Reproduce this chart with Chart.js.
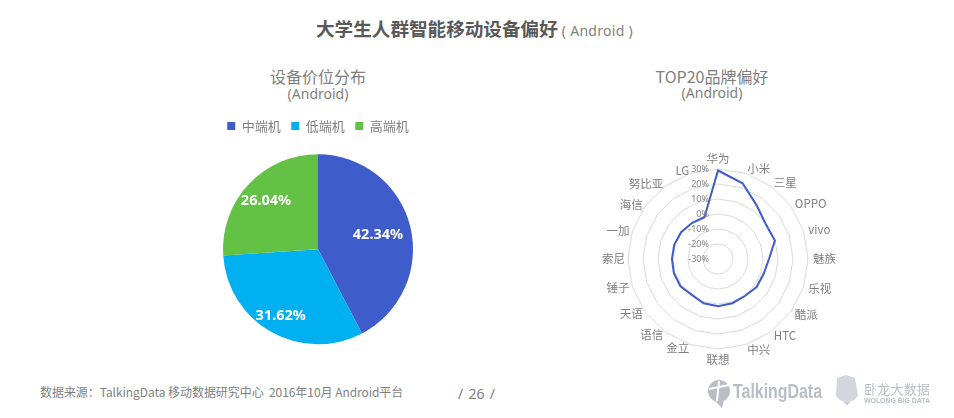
<!DOCTYPE html>
<html>
<head>
<meta charset="utf-8">
<script src="https://cdn.jsdelivr.net/npm/chart.js@4"></script>
<style>
body { margin: 0; background: #fff; font-family: "Noto Sans CJK SC", "Noto Sans", sans-serif; color: #7f7f7f; }
#page { position: relative; width: 954px; height: 418px; overflow: hidden; }
#page div, #page canvas, #page svg { position: absolute; }
.center { white-space: nowrap; transform: translateX(-50%); line-height: 1; }
</style>
</head>
<body>
<div id="page">
    <div style="left:316px;top:18px;white-space:nowrap;line-height:20px;font-size:18.6px;font-weight:700;color:#595959">大学生人群智能移动设备偏好<span style="font-size:14px;font-weight:400;color:#7f7f7f;margin-left:4px;letter-spacing:0.3px;font-family:'Noto Sans'">( Android )</span></div>
    <div class="center" style="left:318px;top:68px;font-size:16px">设备价位分布</div>
    <div class="center" style="left:318px;top:87px;font-size:14px;font-family:'Noto Sans'">(Android)</div>
    <div class="center" style="left:712px;top:68px;font-size:16px">TOP20品牌偏好</div>
    <div class="center" style="left:712px;top:86px;font-size:14px;font-family:'Noto Sans'">(Android)</div>

    <div style="position:absolute;left:168px;top:109px;width:300px;height:247px"><canvas id="pieChart"></canvas></div>
    <div style="position:absolute;left:558px;top:138.5px;width:320px;height:240px"><canvas id="radarChart"></canvas></div>

    <div style="left:40px;top:385px;font-size:12px;white-space:pre;line-height:14px;letter-spacing:-0.05px">数据来源：TalkingData 移动数据研究中心  2016年10月 Android平台</div>
    <div style="left:458px;top:386px;font-size:14px;white-space:pre;line-height:16px;font-family:'Noto Sans';word-spacing:-1px">/  26  /</div>

    <svg style="left:700px;top:370px" width="254" height="48">
        <circle cx="19" cy="21" r="11" fill="#b9bdc6"/>
        <path d="M14 30 L22 38 L24 30 Z" fill="#b9bdc6"/>
        <path d="M9 19 L29 15 M19 11 L17 31" stroke="#fff" stroke-width="2"/>
        <text x="33" y="28" textLength="89" lengthAdjust="spacingAndGlyphs" font-family="Liberation Sans" font-weight="700" font-size="21" fill="#b9bdc6">TalkingData</text>
        <path d="M137 8 L146 5 L155 8 L158 26 Q147 38 136 26 Z" fill="#d3d6dc"/>
        <path d="M137 27 Q147 38 157 27 L147 35 Z" fill="#b9bdc6"/>
        <text x="164" y="24" textLength="66" font-family="Noto Sans CJK SC" font-size="13" fill="#b9bdc6">卧龙大数据</text>
        <text x="164" y="33" textLength="66" font-family="Liberation Sans" font-weight="700" font-size="7" fill="#b9bdc6">WOLONG BIG DATA</text>
    </svg>
</div>

<script>
// 设备价位分布
const priceLabels = ['中端机', '低端机', '高端机'];
const priceValues = [42.34, 31.62, 26.04];
const priceColors = ['#3f5ccb', '#00b0f0', '#63c246'];

// TOP20品牌偏好
const brandLabels = ['华为', '小米', '三星', 'OPPO', 'vivo', '魅族', '乐视', '酷派', 'HTC', '中兴',
    '联想', '金立', '语信', '天语', '锤子', '索尼', '一加', '海信', '努比亚', 'LG'];
const brandValues = [29, 23.1, 14, 9.4, 9.9, 4, 2, 1.8, 0.5, 1,
    1.5, 1, -0.4, 0.9, 0.9, 0.7, 0.7, 0.4, -0.4, -0.7];
const radarTicks = [-30, -20, -10, 0, 10, 20, 30];

const grey = '#7f7f7f';
Chart.defaults.animation = false;
Chart.defaults.font.family = '"Noto Sans CJK SC", "Noto Sans", sans-serif';
Chart.defaults.color = grey;

// 饼图上的百分比文字
const labelDistance = [0.65, 0.8, 0.75];
const pieLabels = {
    id: 'pieLabels',
    afterDatasetsDraw(chart) {
        const c = chart.ctx;
        c.save();
        c.fillStyle = '#fff';
        c.font = '700 14.5px "Noto Sans"';
        c.textAlign = 'center';
        c.textBaseline = 'middle';
        chart.getDatasetMeta(0).data.forEach((arc, i) => {
            const mid = (arc.startAngle + arc.endAngle) / 2;
            const r = arc.outerRadius * labelDistance[i];
            c.fillText(priceValues[i].toFixed(2) + '%', arc.x + Math.cos(mid) * r, arc.y + Math.sin(mid) * r);
        });
        c.restore();
    }
};

// 刻度文字画在中轴左侧，品牌名贴着最外圈
const radarLabels = {
    id: 'radarLabels',
    afterDatasetsDraw(chart) {
        const c = chart.ctx, scale = chart.scales.r;
        c.save();
        c.fillStyle = grey;
        c.font = '9px "Noto Sans"';
        c.textAlign = 'right';
        c.textBaseline = 'middle';
        radarTicks.forEach(t => {
            c.fillText(t + '%', scale.xCenter - 9, scale.yCenter - scale.getDistanceFromCenterForValue(t));
        });
        c.font = '11.5px "Noto Sans CJK SC", "Noto Sans"';
        const half = brandLabels.length / 2;
        brandLabels.forEach((name, i) => {
            const pos = scale.getPointPosition(i, scale.drawingArea + (i > half ? 3 : 5));
            c.textAlign = i === 0 || i === half ? 'center' : (i < half ? 'left' : 'right');
            c.textBaseline = i === 0 ? 'bottom' : (i === half ? 'top' : 'middle');
            c.fillText(name, pos.x, pos.y);
        });
        c.restore();
    }
};

new Chart(document.getElementById('pieChart'), {
    type: 'pie',
    data: {
        labels: priceLabels,
        datasets: [{ data: priceValues, backgroundColor: priceColors, borderWidth: 0, radius: 95 }]
    },
    options: {
        responsive: true,
        maintainAspectRatio: false,
        plugins: {
            tooltip: { enabled: false },
            legend: {
                position: 'top',
                labels: { boxWidth: 8, boxHeight: 8, padding: 10.5, font: { size: 13 }, color: grey }
            }
        }
    },
    plugins: [pieLabels]
});

new Chart(document.getElementById('radarChart'), {
    type: 'radar',
    data: {
        labels: brandLabels,
        datasets: [{
            data: brandValues,
            borderColor: '#3f5ccb',
            borderWidth: 2,
            fill: false,
            pointRadius: 0,
            tension: 0
        }]
    },
    options: {
        responsive: true,
        maintainAspectRatio: false,
        layout: { padding: { top: 30, bottom: 30 } },
        plugins: { legend: { display: false }, tooltip: { enabled: false } },
        scales: {
            r: {
                min: -30,
                max: 30,
                ticks: { display: false, stepSize: 10 },
                grid: { color: '#d9d9d9', lineWidth: 1 },
                angleLines: { display: false },
                pointLabels: { display: false }
            }
        }
    },
    plugins: [radarLabels]
});
</script>
</body>
</html>
